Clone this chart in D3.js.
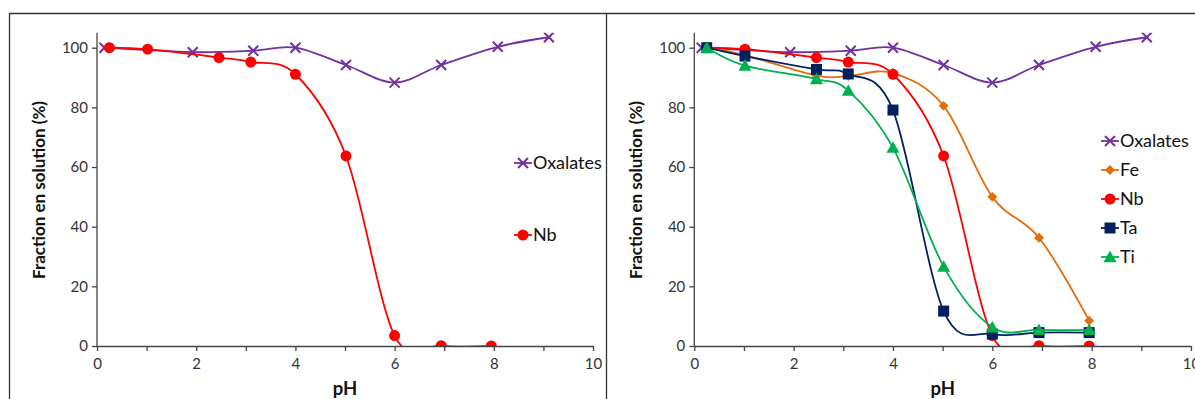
<!DOCTYPE html>
<html><head><meta charset="utf-8">
<script src="https://cdn.jsdelivr.net/npm/d3@7"></script>
<style>
body{margin:0;background:#fff;}
svg{display:block;font-family:Lato,"Open Sans",sans-serif;}
</style></head>
<body>
<svg id="c" width="1195" height="399"></svg>
<script>
// ---- data ----
const phOx = [0.15, 1.93, 3.15, 4.0, 5.02, 6.0, 6.94, 8.08, 9.11];
const oxalates = [100, 98.5, 99.0, 100, 94.2, 88.3, 94.2, 100.3, 103.5];
const phM = [0.25, 1.02, 2.46, 3.1, 4.0, 5.02, 6.0, 6.94, 7.95];
const fe = [100, 97.5, 90.6, 90.5, 91.5, 80.5, 50.0, 36.3, 8.5];
const nb = [100, 99.5, 96.7, 95.2, 91.1, 63.7, 3.5, 0.1, 0.0];
const ta = [100, 97.2, 92.7, 91.2, 79.1, 11.7, 4.0, 4.5, 4.5];
const ti = [100, 94.0, 89.5, 85.6, 66.5, 26.6, 6.3, 5.4, 5.4];
const xTicks = [0, 2, 4, 6, 8, 10];
const yTicks = [0, 20, 40, 60, 80, 100];
const xTitle = "pH";
const yTitle = "Fraction en solution (%)";

const colors = {Oxalates:"#7030A0", Fe:"#E46C0A", Nb:"#FF0000", Ta:"#002060", Ti:"#00B050"};

const svg = d3.select("#c");

// frame lines
svg.append("line").attr("x1",9).attr("y1",13.5).attr("x2",1195).attr("y2",13.5).attr("stroke","#333").attr("stroke-width",1.3);
svg.append("line").attr("x1",9.5).attr("y1",13).attr("x2",9.5).attr("y2",399).attr("stroke","#333").attr("stroke-width",1.3);
svg.append("line").attr("x1",606.5).attr("y1",13).attr("x2",606.5).attr("y2",399).attr("stroke","#333").attr("stroke-width",1.3);

function drawMarker(g, type, x, y, color){
  if(type==="x"){
    const s=5;
    g.append("path").attr("d",`M${x-s},${y-s}L${x+s},${y+s}M${x-s},${y+s}L${x+s},${y-s}`)
      .attr("stroke",color).attr("stroke-width",2).attr("fill","none");
  } else if(type==="diamond"){
    g.append("path").attr("d",d3.symbol(d3.symbolDiamond2,62)()).attr("transform",`translate(${x},${y})`).attr("fill",color);
  } else if(type==="circle"){
    g.append("circle").attr("cx",x).attr("cy",y).attr("r",5.5).attr("fill",color);
  } else if(type==="square"){
    g.append("rect").attr("x",x-5.5).attr("y",y-5.5).attr("width",11).attr("height",11).attr("fill",color);
  } else if(type==="triangle"){
    const s=6.5;
    g.append("path").attr("d",`M${x},${y-s}L${x+s},${y+s*0.8}L${x-s},${y+s*0.8}Z`).attr("fill",color);
  }
}

function chart(id, x0, x1, series, legend){
  const y0 = 346, yTop = 47.7;
  const x = d3.scaleLinear().domain([0,10]).range([x0,x1]);
  const y = d3.scaleLinear().domain([0,100]).range([y0,yTop]);
  const g = svg.append("g");
  const clipId = "clip"+id;
  svg.append("clipPath").attr("id",clipId).append("rect")
    .attr("x",x0).attr("y",y(105)).attr("width",x1-x0+10).attr("height",y0-y(105));

  // axes
  const ax = g.append("g").attr("transform",`translate(0,${y0})`)
    .call(d3.axisBottom(x).tickValues(d3.range(0,11,1)).tickSize(5).tickSizeOuter(0)
      .tickFormat(d=> xTicks.includes(d)? d : ""));
  ax.select(".domain").attr("stroke","#444").attr("stroke-width",1.3);
  ax.selectAll(".tick line").attr("stroke","#444").attr("stroke-width",1.3);
  ax.selectAll(".tick text").attr("font-size",15).attr("fill","#333").attr("dy","1.0em").style("font-family","Lato");
  const ay = g.append("g").attr("transform",`translate(${x0},0)`)
    .call(d3.axisLeft(y).tickValues(yTicks).tickSize(5).tickSizeOuter(0));
  ay.select(".domain").attr("d",`M0,${y(105)}V${y0}`).attr("stroke","#444").attr("stroke-width",1.3);
  ay.selectAll(".tick line").attr("stroke","#444").attr("stroke-width",1.3);
  ay.selectAll(".tick text").attr("font-size",15).attr("fill","#333").attr("x",-9).style("font-family","Lato");

  g.append("text").attr("x",(x0+x1)/2).attr("y",395).attr("text-anchor","middle")
    .attr("font-size",18.5).attr("font-weight","bold").attr("fill","#111").text(xTitle);
  g.append("text").attr("transform",`translate(${x0-52},${190}) rotate(-90)`).attr("text-anchor","middle")
    .attr("font-size",17).attr("font-weight","bold").attr("fill","#111").text(yTitle);

  const line = d3.line().x(d=>x(d[0])).y(d=>y(d[1])).curve(d3.curveCardinal.tension(0));
  const plot = g.append("g").attr("clip-path",`url(#${clipId})`);
  series.forEach(s=>{
    const pts = s.xs.map((v,i)=>[v, s.ys[i]]);
    plot.append("path").attr("d",line(pts)).attr("fill","none").attr("stroke",colors[s.name]).attr("stroke-width",1.8);
    pts.forEach(p=> drawMarker(plot, s.marker, x(p[0]), y(p[1]), colors[s.name]));
  });

  // legend
  legend.items.forEach((s,i)=>{
    const ly = legend.y + i*legend.dy;
    const lx = legend.x;
    g.append("line").attr("x1",lx-9).attr("x2",lx+9).attr("y1",ly).attr("y2",ly)
      .attr("stroke",colors[s.name]).attr("stroke-width",1.8);
    drawMarker(g, s.marker, lx, ly, colors[s.name]);
    g.append("text").attr("x",lx+10).attr("y",ly).attr("dy","0.36em")
      .attr("font-size",18).attr("fill","#111").text(s.name);
  });
}

const sOx = {name:"Oxalates", xs:phOx, ys:oxalates, marker:"x"};
const sFe = {name:"Fe", xs:phM, ys:fe, marker:"diamond"};
const sNb = {name:"Nb", xs:phM, ys:nb, marker:"circle"};
const sTa = {name:"Ta", xs:phM, ys:ta, marker:"square"};
const sTi = {name:"Ti", xs:phM, ys:ti, marker:"triangle"};

chart("L", 97, 593, [sOx, sNb], {x:523, y:163, dy:72, items:[sOx, sNb]});
chart("R", 694.3, 1191, [sOx, sFe, sNb, sTa, sTi], {x:1110, y:141, dy:29, items:[sOx, sFe, sNb, sTa, sTi]});
</script>
</body></html>
